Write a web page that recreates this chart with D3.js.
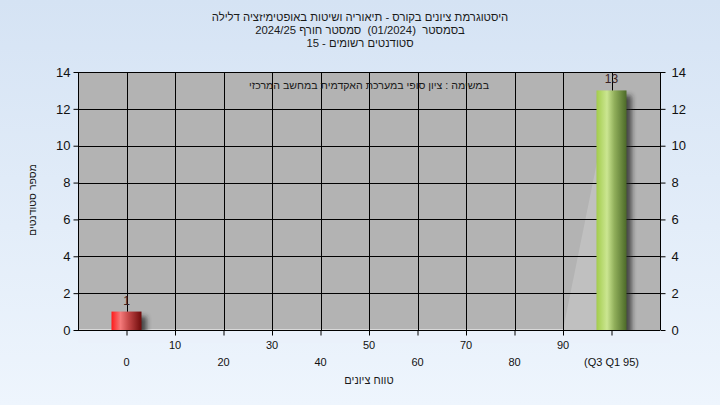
<!DOCTYPE html>
<html><head><meta charset="utf-8">
<script src="https://cdn.jsdelivr.net/npm/d3@7"></script>
<style>
html,body{margin:0;padding:0;}
body{width:720px;height:405px;overflow:hidden;background:linear-gradient(#d5e3f4,#eef5fd);}
svg{display:block;font-family:"Liberation Sans",Arial,sans-serif;}
text{white-space:pre;}
</style></head>
<body>
<svg id="c" width="720" height="405"></svg>
<script>
const titleLines = ["היסטוגרמת ציונים בקורס - תיאוריה ושיטות באופטימיזציה דלילה",
                    "בסמסטר  (01/2024)  סמסטר חורף 2024/25",
                    "סטודנטים רשומים - 15"];
const note = "במשימה : ציון סופי במערכת האקדמית במחשב המרכזי";
const categories = ["0","10","20","30","40","50","60","70","80","90","(Q3 Q1 95)"];
const counts = [1,0,0,0,0,0,0,0,0,0,13];
const areaValues = [null,0,0,0,0,0,0,0,0,0,13];
const barKinds = ["fail","none","none","none","none","none","none","none","none","none","pass"];
const yTicks = [0,2,4,6,8,10,12,14];
const yTitle = "מספר סטודנטים";
const xTitle = "טווח ציונים";

const svg = d3.select("#c");
const L=78,R=660,T=72,B=330;
const x = d3.scalePoint().domain(categories).range([L,R]).padding(1);
const y = d3.scaleLinear().domain([0,14]).range([B,T]);

const defs = svg.append("defs");
function grad(id,stops){
  const g=defs.append("linearGradient").attr("id",id).attr("x1","0").attr("x2","1").attr("y1","0").attr("y2","0");
  stops.forEach(s=>g.append("stop").attr("offset",s[0]).attr("stop-color",s[1]));
}
grad("gRed",[[0,"#ff1a1a"],[0.3,"#f47a7a"],[0.55,"#c84a4a"],[1,"#6e0a0a"]]);
grad("gGreen",[[0,"#a3cc4c"],[0.35,"#cbe691"],[0.6,"#90ae5a"],[1,"#4c6a28"]]);
defs.append("filter").attr("id","blur").attr("x","-50%").attr("y","-50%").attr("width","200%").attr("height","200%")
  .append("feGaussianBlur").attr("stdDeviation",2.5);

const rtl = sel => sel.attr("direction","rtl").attr("unicode-bidi","plaintext");

// title
svg.append("g").selectAll("text").data(titleLines).join("text")
  .attr("x",360).attr("y",(d,i)=>21+i*13).attr("text-anchor","middle")
  .attr("font-size",11.3).attr("fill","#1a1a1a").call(rtl).text(d=>d);

// plot bg
svg.append("rect").attr("x",L).attr("y",T).attr("width",R-L).attr("height",B-T).attr("fill","#b3b3b3");

// area
const area = d3.area().defined(d=>d.v!==null).x(d=>x(d.c)).y0(y(0)).y1(d=>y(d.v));
const ad = categories.map((c,i)=>({c,v:areaValues[i]}));
svg.append("path").datum(ad).attr("d",area).attr("fill","#c0c0c0");
svg.append("line").attr("x1",L).attr("x2",x(categories[9])).attr("y1",B-0.5).attr("y2",B-0.5).attr("stroke","#d8d8d8");

// grid
svg.append("g").selectAll("line").data(yTicks).join("line")
  .attr("x1",L).attr("x2",R).attr("y1",d=>Math.round(y(d))+0.5).attr("y2",d=>Math.round(y(d))+0.5)
  .attr("stroke","#000").attr("stroke-width",1);
svg.append("g").selectAll("line").data(categories).join("line")
  .attr("x1",d=>Math.round(x(d))+0.5).attr("x2",d=>Math.round(x(d))+0.5).attr("y1",T).attr("y2",B)
  .attr("stroke","#000");

// bars
const bw=30;
const bd = categories.map((c,i)=>({c,v:counts[i],k:barKinds[i]})).filter(d=>d.v>0);
svg.append("g").selectAll("rect").data(bd).join("rect")
  .attr("x",d=>x(d.c)-bw/2+5).attr("y",d=>y(d.v)+5).attr("width",bw).attr("height",d=>y(0)-y(d.v))
  .attr("fill","#222").attr("opacity",0.75).attr("filter","url(#blur)");
svg.append("rect").attr("x",L).attr("y",B+1).attr("width",R-L+10).attr("height",12).attr("fill","#eaf1fb");
svg.append("g").selectAll("rect").data(bd).join("rect")
  .attr("x",d=>x(d.c)-bw/2).attr("y",d=>y(d.v)).attr("width",bw).attr("height",d=>y(0)-y(d.v))
  .attr("fill",d=>d.k==="fail"?"url(#gRed)":"url(#gGreen)");
svg.append("g").selectAll("text").data(bd).join("text")
  .attr("x",d=>x(d.c)).attr("y",d=>y(d.v)-7).attr("text-anchor","middle").attr("font-size",12)
  .attr("fill","#3a2020").text(d=>d.v);

// axes
const ax = svg.append("g").attr("font-size",13);
const yl = d3.axisLeft(y).tickValues(yTicks).tickSize(5).tickPadding(3);
const yr = d3.axisRight(y).tickValues(yTicks).tickSize(5).tickPadding(6);
const gl = ax.append("g").attr("transform",`translate(${L+0.5},0)`).call(yl);
const gr = ax.append("g").attr("transform",`translate(${R+0.5},0)`).call(yr);
const xb = d3.axisBottom(x).tickSize(5).tickFormat("");
const gb = ax.append("g").attr("transform",`translate(0,${B+0.5})`).call(xb);
[gl,gr,gb].forEach(g=>{
  g.select(".domain").attr("stroke","#000");
  g.selectAll(".tick line").attr("stroke","#000");
  g.selectAll("text").attr("fill","#111").attr("font-family","'Liberation Sans',Arial,sans-serif").attr("font-size",13);
});
gb.select(".domain").attr("d",`M${L},0H${R}`);
gl.select(".domain").attr("d",`M0,${y(14)}V${y(0)}`);
gr.select(".domain").attr("d",`M0,${y(14)}V${y(0)}`);

svg.append("g").selectAll("text").data(categories).join("text")
  .attr("x",d=>x(d)).attr("y",(d,i)=>i%2===0?366:349).attr("text-anchor","middle")
  .attr("font-size",11).attr("fill","#111").attr("direction","ltr").text(d=>d);

// note
svg.append("text").attr("x",(L+R)/2).attr("y",89).attr("text-anchor","middle").attr("font-size",10.6)
  .attr("fill","#1a1a1a").call(rtl).text(note);

// axis titles
svg.append("text").attr("transform","translate(36,200) rotate(-90)").attr("text-anchor","middle")
  .attr("font-size",10.5).attr("fill","#1a1a1a").call(rtl).text(yTitle);
svg.append("text").attr("x",369).attr("y",384).attr("text-anchor","middle")
  .attr("font-size",11).attr("fill","#1a1a1a").call(rtl).text(xTitle);
</script>
</body></html>
